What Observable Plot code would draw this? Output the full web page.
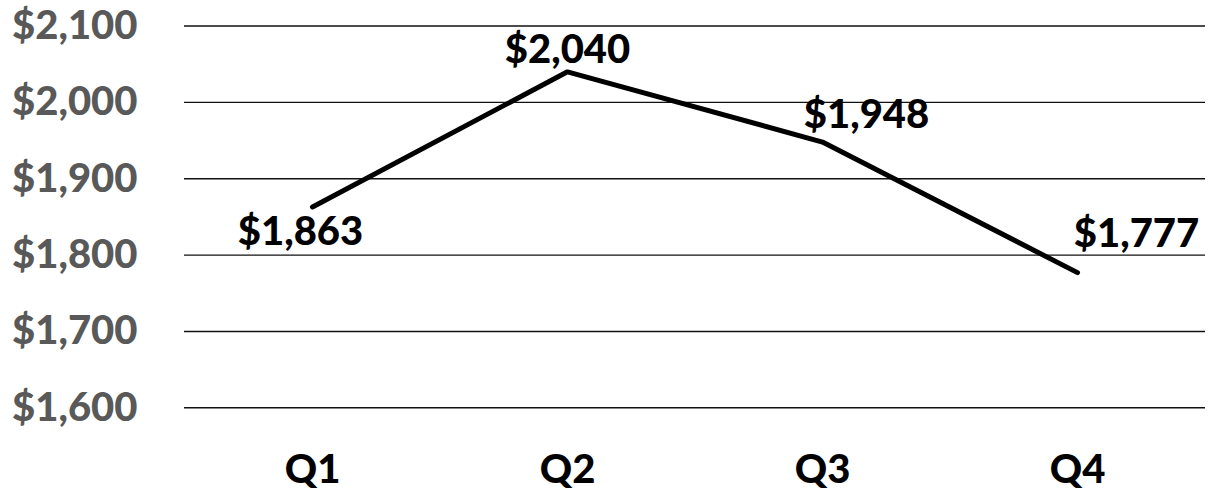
<!DOCTYPE html>
<html>
<head>
<meta charset="utf-8">
<script src="https://cdn.jsdelivr.net/npm/d3@7"></script>
<script src="https://cdn.jsdelivr.net/npm/@observablehq/plot@0.6"></script>
<style>
  html, body { margin: 0; padding: 0; background: #fff; }
  #chart svg { display: block; }
</style>
</head>
<body>
<div id="chart"></div>
<script>
const quarters = ["Q1", "Q2", "Q3", "Q4"];
const values = [1863, 2040, 1948, 1777];
const yTicks = [1600, 1700, 1800, 1900, 2000, 2100];

const data = quarters.map((q, i) => ({quarter: q, value: values[i]}));
const fmt = v => "$" + d3.format(",")(v);
const font = "Lato, 'Open Sans', sans-serif";

// label offsets per point (style/position, not data)
const labelOffsets = [
  {dx: -12, dy: 38},
  {dx: 0, dy: -9},
  {dx: 44, dy: -14},
  {dx: 59, dy: -26}
];

const labelMarks = data.map((d, i) => Plot.text([d], {
  x: "quarter", y: "value", text: dd => fmt(dd.value),
  dx: labelOffsets[i].dx, dy: labelOffsets[i].dy,
  lineAnchor: "bottom", textAnchor: "middle",
  fontSize: 40, fontWeight: 900, fill: "#000"
}));

const chart = Plot.plot({
  width: 1215,
  height: 495,
  marginLeft: 184,
  marginRight: 10,
  marginTop: 25.5,
  marginBottom: 87.7,
  style: {fontFamily: font, background: "#fff"},
  x: {type: "point", domain: quarters, padding: 0.5, label: null},
  y: {domain: [1600, 2100], label: null},
  marks: [
    Plot.ruleY(yTicks, {stroke: "#111", strokeWidth: 1.4}),
    Plot.axisY(yTicks, {
      tickSize: 0, tickPadding: 47, tickFormat: fmt,
      fontSize: 40, fontWeight: 900, fill: "#595959", label: null
    }),
    Plot.axisX({
      tickSize: 0, tickPadding: 47,
      fontSize: 40, fontWeight: 900, fill: "#000", label: null
    }),
    Plot.line(data, {
      x: "quarter", y: "value", stroke: "#000", strokeWidth: 5,
      strokeLinecap: "round", strokeLinejoin: "miter"
    }),
    ...labelMarks
  ]
});
document.getElementById("chart").append(chart);
</script>
</body>
</html>
